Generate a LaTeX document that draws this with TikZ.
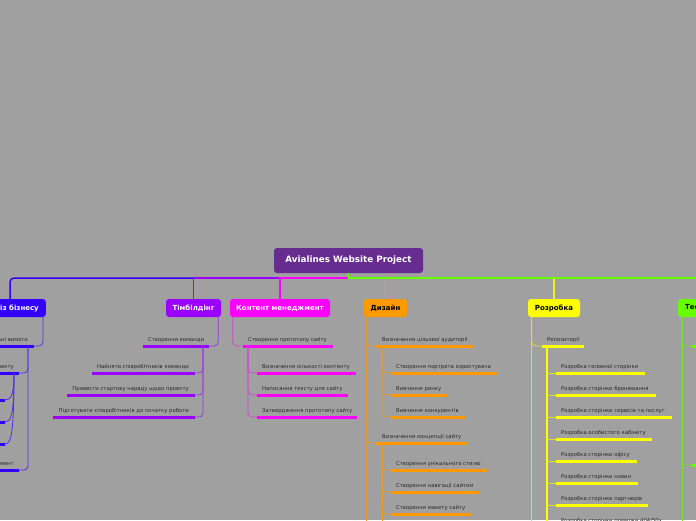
\documentclass[tikz,border=0pt]{standalone}
\usepackage{fontspec}
\setmainfont{DejaVu Sans}
\definecolor{bg}{RGB}{160,160,160}
\definecolor{rootc}{RGB}{102,44,143}
\definecolor{abc}{RGB}{51,0,255}
\definecolor{tbc}{RGB}{153,0,255}
\definecolor{cmc}{RGB}{255,0,255}
\definecolor{dsc}{RGB}{255,153,0}
\definecolor{rzc}{RGB}{255,255,0}
\definecolor{tsc}{RGB}{102,255,0}
\definecolor{txt}{RGB}{40,40,40}
\tikzset{
  lbl/.style={font=\fontsize{5.3}{6}\selectfont, text=txt, inner sep=0pt},
  branchbox/.style={rounded corners=3pt, font=\bfseries\fontsize{7}{8}\selectfont, inner xsep=7pt, inner ysep=0pt, minimum height=18pt},
  uline/.style={line width=3pt},
  conn/.style={line width=0.8pt, rounded corners=4pt},
  bus/.style={line width=1.5pt},
}
\newcommand\mmitem[8]{%
  \coordinate (#1l) at (#6,#5);
  \coordinate (#1r) at (#7,#5);
  \node[lbl,anchor=#3] (#1) at (#4,#5-5) {#8};
  \draw[uline,#2] (#1l) -- (#1r);
}
\begin{document}
\begin{tikzpicture}[x=1pt,y=-1pt]
\useasboundingbox (0,0) rectangle (696,520);
\fill[bg] (0,0) rectangle (696,520);
\clip (0,0) rectangle (696,520);

% root and branches
\node[rounded corners=3pt, fill=rootc, text=white, font=\bfseries\fontsize{8.8}{10}\selectfont, minimum width=149pt, minimum height=25pt, inner sep=0pt] (root) at (348.5,260.5) {Avialines Website Project};
\coordinate (bus) at (348,278);

\node[branchbox, fill=abc, text=white, anchor=east] (ab) at (46,308) {Аналіз бізнесу};
\node[branchbox, fill=tbc, text=white, minimum width=55pt, inner xsep=0pt] (tb) at (193.5,308) {Тімбілдінг};
\node[branchbox, fill=cmc, text=white, minimum width=100pt, inner xsep=0pt] (cm) at (280,308) {Контент менеджмент};
\node[branchbox, fill=dsc, text=black, minimum width=43pt, inner xsep=0pt] (ds) at (385.5,308) {Дизайн};
\node[branchbox, fill=rzc, text=black, minimum width=52pt, inner xsep=0pt] (rz) at (554,308) {Розробка};
\node[branchbox, fill=tsc, text=black, anchor=west] (ts) at (678,308) {Тестування};

% bus lines
\draw[bus, tsc] (root.south) -- (bus);
\draw[bus, tsc] (bus) -| ([xshift=40pt]ts.north west);
\draw[bus, rzc!85!bg] (bus -| rz.north) -- (rz.north);
\draw[bus, dsc!85!bg] (bus -| ds.north) -- (ds.north);
\draw[bus, abc, rounded corners=4pt] (bus -| tb.north) -| ([xshift=-36pt]ab.north east);
\draw[bus, tbc] (bus -| cm.north) -| (tb.north);
\draw[bus, cmc] (bus) -| (cm.north);

% ---------- Analiz biznesu ----------
\mmitem{abA}{abc}{base east}{28}{346}{-40}{34}{Функціональні вимоги}
\mmitem{abB}{abc}{base east}{14}{373}{-30}{19}{Цілі проекту}
\coordinate (abCr) at (5,400);
\coordinate (abDr) at (5,422);
\coordinate (abEr) at (5,444);
\draw[uline,abc] (abCr) -- ++(-10,0);
\draw[uline,abc] (abDr) -- ++(-10,0);
\draw[uline,abc] (abEr) -- ++(-10,0);
\mmitem{abF}{abc}{base east}{14}{470}{-30}{19}{Ринковий сегмент}
\draw[conn, abc!70!bg] ([xshift=-3pt]ab.south east) |- (abAr);
\draw[conn, abc!70!bg] ([xshift=-6pt]abAr) |- (abBr);
\draw[conn, abc!70!bg] ([xshift=-6pt]abAr) |- (abFr);
\draw[line width=0.8pt, abc!70!bg] ([xshift=-5pt]abBr) .. controls +(0,22) and +(6,0) .. (abCr);
\draw[line width=0.8pt, abc!70!bg] ([xshift=-5pt]abBr) .. controls +(0,42) and +(6,0) .. (abDr);
\draw[line width=0.8pt, abc!70!bg] ([xshift=-5pt]abBr) .. controls +(0,62) and +(6,0) .. (abEr);

% ---------- Timbilding ----------
\mmitem{tbA}{tbc}{base west}{148}{346}{143}{209}{Створення команди}
\mmitem{tbB}{tbc}{base east}{189}{373}{92}{195}{Найняти співробітників команди}
\mmitem{tbC}{tbc}{base east}{189}{395}{67}{195}{Провести стартову нараду щодо проекту}
\mmitem{tbD}{tbc}{base east}{189}{417}{53}{195}{Підготувати співробітників до початку роботи}
\draw[conn, tbc!65!bg] ([xshift=-3pt]tb.south east) |- (tbAr);
\draw[conn, tbc!65!bg] ([xshift=-6pt]tbAr) |- (tbBr);
\draw[conn, tbc!65!bg] ([xshift=-6pt]tbAr) |- (tbCr);
\draw[conn, tbc!65!bg] ([xshift=-6pt]tbAr) |- (tbDr);

% ---------- Kontent menedzhment ----------
\mmitem{cmA}{cmc}{base west}{248}{346}{243}{333}{Створення прототипу сайту}
\mmitem{cmB}{cmc}{base west}{262}{373}{257}{356}{Визначення кількості контенту}
\mmitem{cmC}{cmc}{base west}{262}{395}{257}{348}{Написання тексту для сайту}
\mmitem{cmD}{cmc}{base west}{262}{417}{257}{357}{Затвердження прототипу сайту}
\draw[conn, cmc!60!bg] ([xshift=3pt]cm.south west) |- (cmAl);
\draw[conn, cmc!60!bg] ([xshift=5pt]cmAl) |- (cmBl);
\draw[conn, cmc!60!bg] ([xshift=5pt]cmAl) |- (cmCl);
\draw[conn, cmc!60!bg] ([xshift=5pt]cmAl) |- (cmDl);

% ---------- Dyzain ----------
\mmitem{dsA}{dsc}{base west}{382}{346}{376}{473}{Визначення цільової аудиторії}
\mmitem{dsB}{dsc}{base west}{396}{373}{391}{497}{Створення портрета користувача}
\mmitem{dsC}{dsc}{base west}{396}{395}{391}{447}{Вивчення ринку}
\mmitem{dsD}{dsc}{base west}{396}{417}{391}{465}{Вивчення конкурентів}
\mmitem{dsE}{dsc}{base west}{382}{443}{376}{467}{Визначення концепції сайту}
\mmitem{dsF}{dsc}{base west}{396}{470}{391}{487}{Створення унікального стилю}
\mmitem{dsG}{dsc}{base west}{396}{492}{391}{479}{Створення навігації сайтом}
\mmitem{dsH}{dsc}{base west}{396}{514}{391}{471}{Створення макету сайту}
\draw[conn, dsc!70!bg] ([xshift=3pt]ds.south west) -- ++(0,215);
\draw[conn, dsc!70!bg] ([xshift=3pt]ds.south west) |- (dsAl);
\draw[conn, dsc!70!bg] ([xshift=3pt]ds.south west) |- (dsEl);
\draw[conn, dsc!70!bg] ([xshift=6pt]dsAl) |- (dsBl);
\draw[conn, dsc!70!bg] ([xshift=6pt]dsAl) |- (dsCl);
\draw[conn, dsc!70!bg] ([xshift=6pt]dsAl) |- (dsDl);
\draw[line width=1pt, dsc!85!bg] ([xshift=6pt]dsEl) -- ++(0,90);
\draw[conn, dsc!70!bg] ([xshift=6pt]dsEl) |- (dsFl);
\draw[conn, dsc!70!bg] ([xshift=6pt]dsEl) |- (dsGl);
\draw[conn, dsc!70!bg] ([xshift=6pt]dsEl) |- (dsHl);

% ---------- Rozrobka ----------
\mmitem{rzA}{rzc}{base west}{547}{346}{542}{584}{Репозиторії}
\mmitem{rzB}{rzc}{base west}{561}{373}{556}{645}{Розробка головної сторінки}
\mmitem{rzC}{rzc}{base west}{561}{395}{556}{656}{Розробка сторінки бронювання}
\mmitem{rzD}{rzc}{base west}{561}{417}{556}{672}{Розробка сторінки сервісів та послуг}
\mmitem{rzE}{rzc}{base west}{561}{439}{556}{652}{Розробка особистого кабінету}
\mmitem{rzF}{rzc}{base west}{561}{461}{556}{637}{Розробка сторінки офісу}
\mmitem{rzG}{rzc}{base west}{561}{483}{556}{638}{Розробка сторінки новин}
\mmitem{rzH}{rzc}{base west}{561}{505}{556}{648}{Розробка сторінки партнерів}
\mmitem{rzI}{rzc}{base west}{561}{527}{556}{660}{Розробка сторінки помилки 404/50х}
\draw[conn, rzc!65!bg] ([xshift=4pt]rz.south west) -- ++(0,215);
\draw[conn, rzc!65!bg] ([xshift=4pt]rz.south west) |- (rzAl);
\draw[line width=2pt, rzc] ([xshift=5pt]rzAl) -- ++(0,190);
\foreach \k in {B,C,D,E,F,G,H,I}{
  \draw[line width=0.8pt, rzc!65!bg] ([xshift=5pt]rzAl |- rz\k l) -- (rz\k l);
}

% ---------- Testuvannia ----------
\coordinate (tsAl) at (692,346);
\coordinate (tsBl) at (692,465);
\draw[uline,tsc] (tsAl) -- ++(20,0);
\draw[uline,tsc] (tsBl) -- ++(20,0);
\draw[conn, tsc!70!bg] ([xshift=4pt]ts.south west) -- ++(0,215);
\draw[conn, tsc!70!bg] ([xshift=4pt]ts.south west) |- (tsAl);
\draw[conn, tsc!70!bg] ([xshift=4pt]ts.south west) |- (tsBl);
\draw[conn, tsc!70!bg] ([xshift=10pt]tsAl) -- ++(0,120);
\end{tikzpicture}
\end{document}
